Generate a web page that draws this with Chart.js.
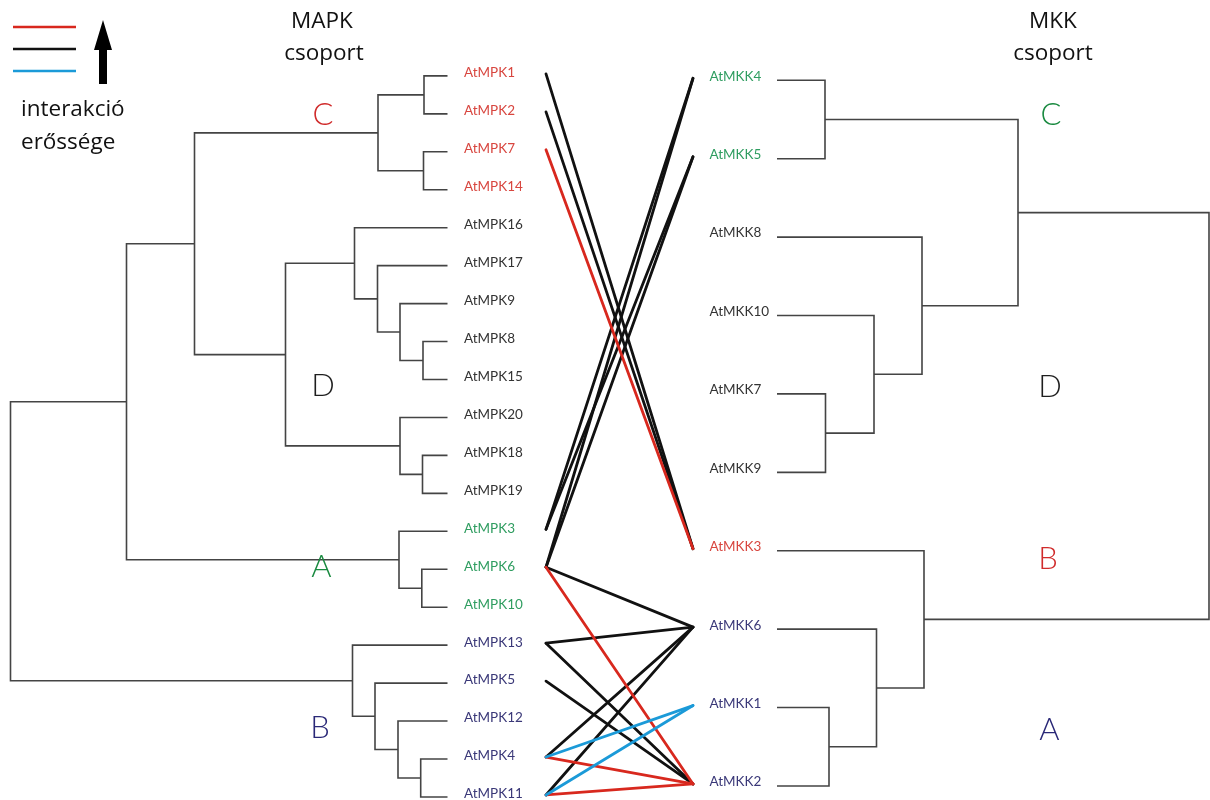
<!DOCTYPE html>
<html>
<head>
<meta charset="utf-8">
<script src="https://cdn.jsdelivr.net/npm/chart.js@4"></script>
<style>
  body { margin: 0; background: #fff; }
  canvas { display: block; }
</style>
</head>
<body>
<canvas id="chart" width="1210" height="800"></canvas>
<script>
// MAPK tree, leaves top to bottom
const mapkLeaves = ['AtMPK1', 'AtMPK2', 'AtMPK7', 'AtMPK14', 'AtMPK16', 'AtMPK17', 'AtMPK9', 'AtMPK8', 'AtMPK15', 'AtMPK20',
  'AtMPK18', 'AtMPK19', 'AtMPK3', 'AtMPK6', 'AtMPK10', 'AtMPK13', 'AtMPK5', 'AtMPK12', 'AtMPK4', 'AtMPK11'];
const mapkGroups = ['C', 'C', 'C', 'C', 'D', 'D', 'D', 'D', 'D', 'D', 'D', 'D', 'A', 'A', 'A', 'B', 'B', 'B', 'B', 'B'];
// merges: [child a, child b, height]; new nodes get ids 20, 21, ...
const mapkLinks = [
  [0, 1, 2.35], [2, 3, 2.4], [20, 21, 6.95],
  [7, 8, 2.45], [6, 23, 4.75], [5, 24, 7.0], [4, 25, 9.3],
  [10, 11, 2.5], [9, 27, 4.75], [26, 28, 16.2],
  [22, 29, 25.3],
  [13, 14, 2.57], [12, 31, 4.85],
  [30, 32, 32.1],
  [18, 19, 2.68], [17, 34, 4.95], [16, 35, 7.25], [15, 36, 9.5],
  [33, 37, 43.7]
];

// MKK tree
const mkkLeaves = ['AtMKK4', 'AtMKK5', 'AtMKK8', 'AtMKK10', 'AtMKK7', 'AtMKK9', 'AtMKK3', 'AtMKK6', 'AtMKK1', 'AtMKK2'];
const mkkGroups = ['C', 'C', 'D', 'D', 'D', 'D', 'B', 'A', 'A', 'A'];
const mkkLinks = [
  [0, 1, 4.8], [4, 5, 4.85], [3, 11, 9.7], [2, 12, 14.5], [10, 13, 24.1],
  [8, 9, 5.2], [7, 15, 9.95], [6, 16, 14.7],
  [14, 17, 43.2]
];

// interactions: [MAPK, MKK, strength] 3 = strong (red), 2 = medium (black), 1 = weak (blue)
const interactions = [
  ['AtMPK1', 'AtMKK3', 2], ['AtMPK2', 'AtMKK3', 2],
  ['AtMPK3', 'AtMKK4', 2], ['AtMPK6', 'AtMKK4', 2],
  ['AtMPK3', 'AtMKK5', 2], ['AtMPK6', 'AtMKK5', 2],
  ['AtMPK6', 'AtMKK6', 2], ['AtMPK13', 'AtMKK6', 2], ['AtMPK4', 'AtMKK6', 2], ['AtMPK11', 'AtMKK6', 2],
  ['AtMPK13', 'AtMKK2', 2], ['AtMPK5', 'AtMKK2', 2],
  ['AtMPK7', 'AtMKK3', 3], ['AtMPK6', 'AtMKK2', 3], ['AtMPK4', 'AtMKK2', 3], ['AtMPK11', 'AtMKK2', 3],
  ['AtMPK4', 'AtMKK1', 1], ['AtMPK11', 'AtMKK1', 1]
];

const strengthColors = { 3: '#d8281e', 2: '#111111', 1: '#1b9ad8' };
const mapkColors = { C: '#d8463f', D: '#333333', A: '#2f9d60', B: '#3a3878' };
const mkkColors = { C: '#2f9d60', D: '#333333', B: '#d8463f', A: '#3a3878' };
const mapkLetters = [['C', 12.45, 1.03, '#d02b2b'], ['D', 12.45, 8.17, '#1e1e1e'], ['A', 12.6, 12.95, '#1a8a40'], ['B', 12.75, 17.18, '#2a2877']];
const mkkLetters = [['C', 27.4, 0.44, '#1a8a40'], ['D', 27.3, 3.91, '#1e1e1e'], ['B', 27.1, 6.11, '#d02b2b'], ['A', 27.25, 8.29, '#2a2877']];

// turn a merge list into bracket-shaped polylines
function treeSegments(leafCount, links) {
  const pos = [];
  for (let i = 0; i < leafCount; i++) pos.push({ x: 0, y: i });
  const segs = [];
  links.forEach(([a, b, h]) => {
    const pa = pos[a], pb = pos[b];
    segs.push([{ x: pa.x, y: pa.y }, { x: h, y: pa.y }, { x: h, y: pb.y }, { x: pb.x, y: pb.y }]);
    pos.push({ x: h, y: (pa.y + pb.y) / 2 });
  });
  return segs;
}

const treeStyle = { showLine: true, borderColor: '#444', borderWidth: 1.6, pointRadius: 0, fill: false, tension: 0 };
const datasets = [];
treeSegments(mapkLeaves.length, mapkLinks).forEach(s =>
  datasets.push({ ...treeStyle, data: s, xAxisID: 'xL', yAxisID: 'yL' }));
treeSegments(mkkLeaves.length, mkkLinks).forEach(s =>
  datasets.push({ ...treeStyle, data: s, xAxisID: 'xR', yAxisID: 'yR' }));

const overlay = {
  id: 'overlay',
  afterDatasetsDraw(chart) {
    const { ctx, scales } = chart;
    const { xL, yL, xR, yR } = scales;
    ctx.save();

    // interaction lines
    ctx.lineWidth = 2.8;
    ctx.lineCap = 'round';
    [2, 3, 1].forEach(level => {
      interactions.filter(d => d[2] === level).forEach(([mp, mk]) => {
        ctx.strokeStyle = strengthColors[level];
        ctx.beginPath();
        ctx.moveTo(xL.getPixelForValue(-9.85), yL.getPixelForValue(mapkLeaves.indexOf(mp)) - 2);
        ctx.lineTo(xR.getPixelForValue(-8.4), yR.getPixelForValue(mkkLeaves.indexOf(mk)) - 2);
        ctx.stroke();
      });
    });

    // leaf labels
    ctx.font = '13.5px Lato, "DejaVu Sans", sans-serif';
    ctx.textBaseline = 'middle';
    ctx.textAlign = 'left';
    mapkLeaves.forEach((name, i) => {
      ctx.fillStyle = mapkColors[mapkGroups[i]];
      ctx.fillText(name, xL.getPixelForValue(-1.65), yL.getPixelForValue(i) - 3);
    });
    mkkLeaves.forEach((name, i) => {
      ctx.fillStyle = mkkColors[mkkGroups[i]];
      ctx.fillText(name, xR.getPixelForValue(-6.75), yR.getPixelForValue(i) - 4);
    });

    // group letters
    ctx.font = '300 31px Lato, "DejaVu Sans", sans-serif';
    ctx.textAlign = 'center';
    mapkLetters.forEach(([t, x, y, c]) => {
      ctx.fillStyle = c;
      ctx.fillText(t, xL.getPixelForValue(x), yL.getPixelForValue(y));
    });
    mkkLetters.forEach(([t, x, y, c]) => {
      ctx.fillStyle = c;
      ctx.fillText(t, xR.getPixelForValue(x), yR.getPixelForValue(y));
    });

    // headings
    ctx.font = '22.5px "Open Sans", sans-serif';
    ctx.fillStyle = '#111';
    ctx.fillText('MAPK', 322, 22);
    ctx.fillText('csoport', 324, 54);
    ctx.fillText('MKK', 1053, 22);
    ctx.fillText('csoport', 1053, 54);

    // legend
    ctx.lineCap = 'butt';
    ctx.lineWidth = 2.5;
    [[3, 27], [2, 49], [1, 71]].forEach(([lvl, y]) => {
      ctx.strokeStyle = strengthColors[lvl];
      ctx.beginPath();
      ctx.moveTo(13, y);
      ctx.lineTo(76, y);
      ctx.stroke();
    });
    ctx.fillStyle = '#000';
    ctx.beginPath();
    ctx.moveTo(103, 20);
    ctx.lineTo(112, 50);
    ctx.lineTo(107, 50);
    ctx.lineTo(107, 84);
    ctx.lineTo(99, 84);
    ctx.lineTo(99, 50);
    ctx.lineTo(94, 50);
    ctx.closePath();
    ctx.fill();
    ctx.textAlign = 'left';
    ctx.fillStyle = '#111';
    ctx.fillText('interakció', 21, 110);
    ctx.fillText('erőssége', 21, 143);

    ctx.restore();
  }
};

new Chart(document.getElementById('chart'), {
  type: 'scatter',
  data: { datasets },
  options: {
    responsive: false,
    animation: false,
    layout: { padding: 0 },
    plugins: { legend: { display: false }, tooltip: { enabled: false } },
    scales: {
      xL: { type: 'linear', axis: 'x', display: false, reverse: true, min: -76.25, max: 44.75 },
      yL: { type: 'linear', axis: 'y', display: false, reverse: true, min: -2.0, max: 19.08 },
      xR: { type: 'linear', axis: 'x', display: false, min: -77.7, max: 43.3 },
      yR: { type: 'linear', axis: 'y', display: false, reverse: true, min: -1.024, max: 9.179 }
    }
  },
  plugins: [overlay]
});
</script>
</body>
</html>
